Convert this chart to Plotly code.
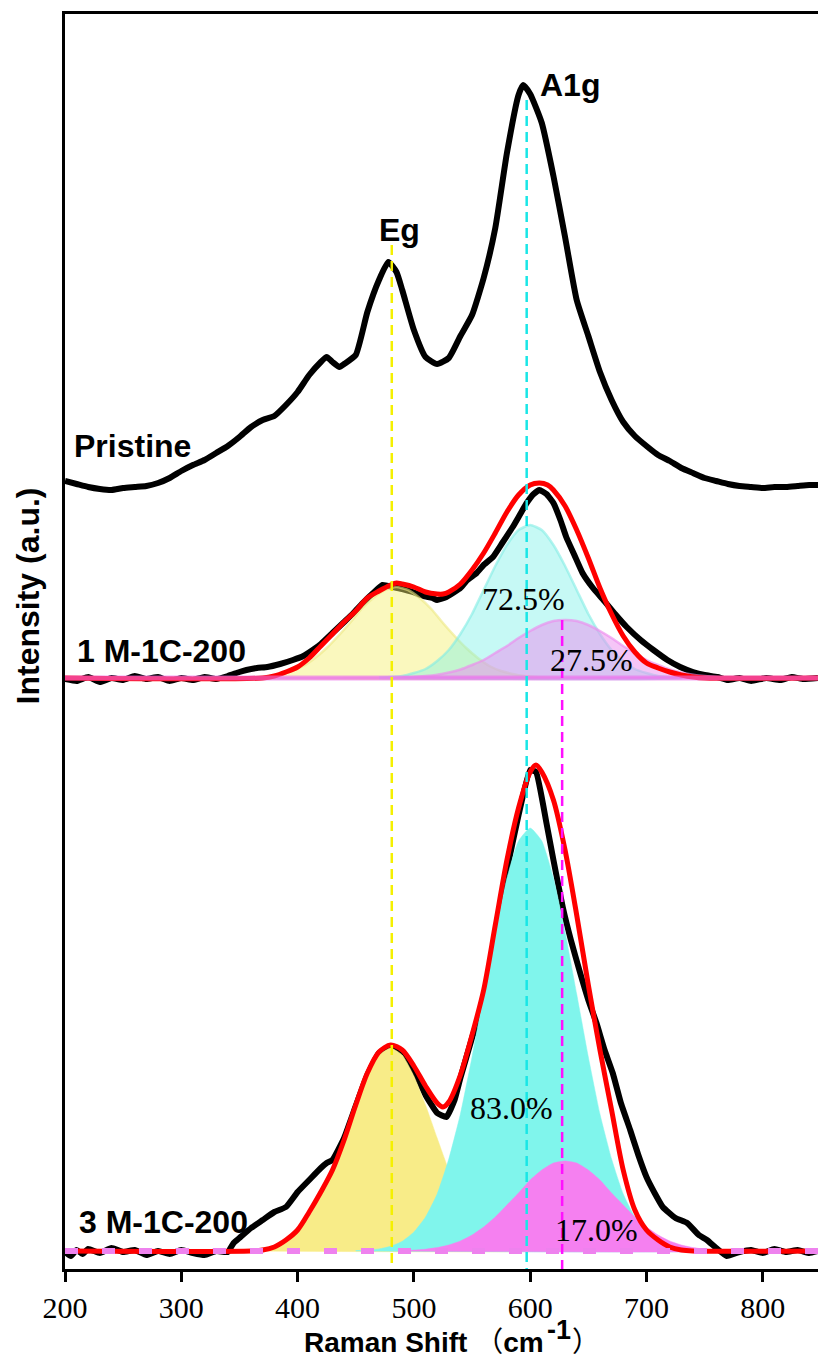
import plotly.graph_objects as go

# ---------------- data (Raman shift in cm-1, intensity in a.u.) ----------------
pristine_x = [200, 210, 220, 230, 240, 250, 260, 270, 280, 290, 300, 310, 320, 330, 340, 350, 360, 370, 380, 390,
              400, 410, 420, 425, 430, 436, 440, 450, 460, 470, 478, 485, 490, 500, 510, 520, 530, 540, 550, 560,
              570, 580, 590, 594, 600, 610, 620, 630, 640, 650, 660, 670, 680, 690, 700, 710, 720, 730, 740, 750,
              760, 770, 780, 790, 800, 810, 820, 830, 840, 847.5]
pristine_y = [788, 785, 782, 780, 779, 781, 782, 783, 786, 791, 798, 804, 809, 816, 823, 832, 842, 849, 853, 864,
              877, 894, 907, 912, 907, 902, 905, 914, 957, 989, 1007, 997, 979, 939, 912, 905, 911, 933, 954, 991,
              1041, 1116, 1174, 1184, 1175, 1146, 1093, 1032, 969, 933, 897, 869, 847, 833, 823, 814, 808, 801, 796, 791,
              788, 785, 783, 782, 781, 782, 782, 783, 784, 784]

m1_x = [200, 210, 220, 230, 240, 250, 260, 270, 280, 290, 300, 310, 320, 330, 340, 350, 356, 365, 374, 385,
        396, 405, 413, 420, 430, 440, 448, 456, 465, 473, 482, 490, 499, 508, 516, 520, 528, 535, 540, 546,
        554, 560, 568, 576, 585, 591, 597, 603, 608, 614, 620, 626, 631, 638, 645, 654, 663, 673, 683, 695,
        706, 718, 729, 740, 750, 761, 770, 780, 790, 803, 815, 825, 835, 847.5]
m1_y = [590, 588, 592, 587, 591, 589, 593, 590, 592, 588, 591, 589, 592, 590, 593, 597, 599, 601, 602, 605,
        609, 613, 619, 625, 636, 647, 656, 666, 676, 684, 682, 680, 677, 673, 671, 669, 672, 677, 681, 689,
        696, 704, 712, 726, 742, 754, 766, 775, 779, 775, 766, 749, 732, 714, 696, 681, 669, 655, 642, 629,
        619, 609, 602, 597, 594, 592, 589, 591, 588, 591, 589, 592, 590, 591]

m1_fit_x = [200, 370, 380, 390, 400, 410, 420, 430, 440, 450, 460, 470, 480, 485, 490, 500, 510, 520, 525, 530,
            540, 550, 560, 570, 580, 590, 600, 608, 615, 620, 630, 640, 650, 660, 670, 680, 690, 700, 710, 720,
            730, 740, 750, 847.5]
m1_fit_y = [591, 591, 593, 597, 602, 611, 623, 635, 647, 658, 671, 678, 684, 686, 685, 682, 677, 675, 675, 677,
            685, 699, 716, 736, 757, 774, 784, 786, 784, 779, 763, 739, 711, 681, 655, 633, 617, 606, 601, 597,
            594, 592, 591, 591]

m1_base = 591
m1_eg_x = [200, 345, 355, 365, 375, 385, 395, 405, 415, 425, 435, 445, 455, 465, 475, 485, 495, 505, 515, 525,
           535, 545, 555, 565, 575, 585, 595, 605, 615, 625]
m1_eg_h = [0, 0.2, 0.5, 1, 2, 4, 7, 12, 20, 30, 42, 55, 69, 80, 88, 91, 88, 80, 69, 55,
           42, 30, 20, 12, 7, 4, 2, 1, 0.5, 0.2]
m1_a1_x = [470, 480, 490, 500, 510, 520, 530, 540, 550, 560, 570, 580, 590, 600, 610, 620, 630, 640, 650, 660,
           670, 680, 690, 700, 710, 720, 730]
m1_a1_h = [0.5, 1, 2, 5, 9, 17, 28, 44, 64, 88, 112, 133, 148, 153, 148, 133, 112, 88, 64, 44,
           28, 17, 9, 5, 2, 1, 0.5]
m1_a2_x = [200, 480, 490, 500, 510, 520, 530, 540, 550, 560, 570, 580, 590, 600, 610, 620, 630, 640, 650, 660,
           670, 680, 690, 700, 710, 720, 730, 740, 750, 760, 770, 780, 847.5]
m1_a2_h = [0, 0.3, 0.6, 1.0, 1.9, 3.3, 5.5, 8.5, 13, 18, 25, 32, 40, 47, 53, 57, 58, 57, 53, 47,
           40, 32, 25, 18, 13, 8.5, 5.5, 3.3, 1.9, 1.0, 0.6, 0.3, 0]

m3_x = [200, 205, 210, 215, 220, 230, 240, 250, 260, 270, 280, 290, 300, 310, 320, 330, 340, 345, 350, 360,
        370, 380, 390, 400, 410, 420, 425, 430, 440, 450, 460, 470, 480, 490, 500, 510, 520, 528, 535, 540,
        550, 560, 570, 580, 590, 600, 605, 614, 620, 628, 635, 643, 650, 657, 664, 671, 678, 686, 693, 700,
        707, 714, 725, 735, 745, 752, 760, 769, 780, 790, 800, 810, 820, 830, 840, 847.5]
m3_y = [17, 13, 19, 15, 20, 16, 21, 17, 19, 14, 18, 15, 19, 16, 14, 18, 17, 26, 31, 41,
        49, 57, 62, 77, 89, 101, 106, 109, 131, 163, 194, 216, 223, 217, 199, 174, 156, 152, 169, 191,
        231, 269, 334, 399, 454, 499, 497, 446, 409, 362, 329, 296, 269, 246, 219, 196, 166, 139, 114, 92,
        76, 62, 51, 46, 34, 29, 21, 13, 17, 19, 16, 20, 17, 19, 16, 18]

m3_fit_x = [200, 360, 370, 380, 390, 400, 410, 420, 430, 440, 450, 460, 470, 480, 490, 500, 510, 520, 525, 530,
            540, 550, 560, 570, 580, 590, 600, 605, 610, 620, 630, 640, 650, 660, 670, 680, 690, 700, 710, 720,
            730, 740, 847.5]
m3_fit_y = [18, 18, 19, 22, 29, 39, 57, 77, 99, 129, 164, 196, 217, 224, 219, 203, 183, 166, 162, 167,
            194, 234, 279, 344, 409, 461, 497, 504, 497, 469, 419, 354, 284, 219, 159, 99, 59, 39, 29, 22,
            19, 18, 18]

m3_base = 18
m3_eg_x = [350, 360, 370, 380, 390, 400, 410, 420, 430, 440, 450, 460, 470, 480, 490, 500, 510, 520, 530, 540,
           550, 560, 570, 580, 590, 600, 610]
m3_eg_h = [0.4, 1, 2.4, 5, 11, 20, 34, 55, 81, 113, 146, 175, 196, 203, 196, 175, 146, 113, 81, 55,
           34, 20, 11, 5, 2.4, 1, 0.4]
m3_a1_x = [450, 460, 470, 480, 490, 500, 510, 520, 530, 540, 550, 560, 570, 580, 590, 600, 610, 620, 630, 640,
           650, 660, 670, 680, 690, 700, 710, 720, 730, 740, 750]
m3_a1_h = [0.4, 0.9, 2.1, 4.7, 9.7, 19, 34, 57, 92, 137, 194, 257, 319, 373, 410, 423, 410, 373, 319, 257,
           194, 137, 92, 57, 34, 19, 9.7, 4.7, 2.1, 0.9, 0.4]
m3_a2_x = [490, 500, 510, 520, 530, 540, 550, 560, 570, 580, 590, 600, 610, 620, 630, 640, 650, 660, 670, 680,
           690, 700, 710, 720, 730, 740, 750, 760, 770]
m3_a2_h = [0.5, 0.9, 1.8, 3.4, 6, 10, 16, 24, 34, 46, 58, 71, 81, 88, 90, 88, 81, 71, 58, 46,
           34, 24, 16, 10, 6, 3.4, 1.8, 0.9, 0.5]

# reference peak positions (dashed guides): position, top of line
guide_pos = [481, 597, 627.5]
guide_top = [1024, 1169, 649]
guide_col = ["#F5F000", "#19E6E6", "#FF10FF"]

x_range = [200, 847.5]
x_ticks = [200, 300, 400, 500, 600, 700, 800]

fig = go.Figure()


def spectrum(x, y, color, width=5.5, shape="linear", smoothing=0.6):
    fig.add_trace(go.Scatter(x=x, y=y, mode="lines",
                             line=dict(color=color, width=width, shape=shape, smoothing=smoothing),
                             hoverinfo="skip", showlegend=False))


def component(x, h, base, fill, line_color, line_width):
    xs = list(x) + [x[-1], x[0]]
    ys = [base + v for v in h] + [base, base]
    fig.add_trace(go.Scatter(x=xs, y=ys, mode="lines", fill="toself", fillcolor=fill,
                             line=dict(color=line_color, width=line_width, shape="spline", smoothing=0.5),
                             hoverinfo="skip", showlegend=False))


# Pristine
spectrum(pristine_x, pristine_y, "black", 6, "spline", 0.5)

# 1 M-1C-200
spectrum(m1_x, m1_y, "black", 6, "spline", 0.4)
component(m1_eg_x, m1_eg_h, m1_base, "rgba(245,240,110,0.45)", "rgba(236,232,130,0.6)", 2.5)
component(m1_a1_x, m1_a1_h, m1_base, "rgba(120,240,232,0.42)", "rgba(130,236,228,0.6)", 2.5)
component(m1_a2_x, m1_a2_h, m1_base, "rgba(236,140,240,0.5)", "rgba(236,140,238,0.65)", 2.5)
spectrum(m1_fit_x, m1_fit_y, "#FF0000", 5, "spline", 0.8)
fig.add_trace(go.Scatter(x=x_range, y=[m1_base, m1_base], mode="lines",
                         line=dict(color="rgba(236,110,236,0.6)", width=5),
                         hoverinfo="skip", showlegend=False))

# 3 M-1C-200
spectrum(m3_x, m3_y, "black", 6, "spline", 0.4)
component(m3_eg_x, m3_eg_h, m3_base, "#F8EC88", "#F8EC88", 0.5)
component(m3_a1_x, m3_a1_h, m3_base, "#80F5EC", "#80F5EC", 0.5)
component(m3_a2_x, m3_a2_h, m3_base, "#F580F0", "#F580F0", 0.5)
spectrum(m3_fit_x, m3_fit_y, "#FF0000", 5, "spline", 0.8)
fig.add_trace(go.Scatter(x=x_range, y=[m3_base, m3_base], mode="lines",
                         line=dict(color="#EE82EE", width=6, dash="13px,24px"),
                         hoverinfo="skip", showlegend=False))

# dashed guides
for p, t, c in zip(guide_pos, guide_top, guide_col):
    fig.add_trace(go.Scatter(x=[p, p], y=[t, 0], mode="lines",
                             line=dict(color=c, width=2.5, dash="10px,6px"),
                             hoverinfo="skip", showlegend=False))

bold = dict(family="Arial, Liberation Sans, sans-serif", size=32, color="black", weight="bold")
serif = dict(family="Times New Roman, Liberation Serif, serif", size=32, color="black")

labels = [
    ("Pristine", 206, 823, "left", bold),
    ("1 M-1C-200", 208.5, 618, "left", bold),
    ("3 M-1C-200", 210, 47, "left", bold),
    ("Eg", 488, 1039, "center", bold),
    ("A1g", 634, 1184, "center", bold),
    ("72.5%", 594.5, 670, "center", serif),
    ("27.5%", 653, 609, "center", serif),
    ("83.0%", 584, 161, "center", serif),
    ("17.0%", 657, 39, "center", serif),
]
for text, x, y, anchor, font in labels:
    fig.add_annotation(x=x, y=y, xref="x", yref="y", text=text, showarrow=False,
                       xanchor=anchor, yanchor="middle", font=font)

# axis titles
title_font = dict(family="Arial, Liberation Sans, sans-serif", size=28, color="black", weight="bold")
fig.add_annotation(x=-0.049, y=0.536, xref="paper", yref="paper", text="Intensity (a.u.)",
                   textangle=-90, showarrow=False, xanchor="center", yanchor="middle",
                   font=dict(family="Arial, Liberation Sans, sans-serif", size=32, color="black", weight="bold"))
fig.add_annotation(x=0.3147, y=-0.0566, xref="paper", yref="paper",
                   text="Raman Shift <span style='font-family:Noto Sans CJK SC;font-weight:normal'>（</span>cm",
                   showarrow=False, xanchor="left", yanchor="middle", font=title_font)
fig.add_annotation(x=0.6375, y=-0.0486, xref="paper", yref="paper", text="-1",
                   showarrow=False, xanchor="left", yanchor="middle",
                   font=dict(family="Arial, Liberation Sans, sans-serif", size=27, color="black", weight="bold"))
fig.add_annotation(x=0.6700, y=-0.0566, xref="paper", yref="paper",
                   text="<span style='font-family:Noto Sans CJK SC;font-weight:normal'>）</span>",
                   showarrow=False, xanchor="left", yanchor="middle", font=title_font)

fig.update_layout(
    width=818, height=1362,
    margin=dict(l=65, r=0, t=14, b=93),
    paper_bgcolor="white", plot_bgcolor="white",
    showlegend=False,
)
fig.update_xaxes(
    range=x_range, tickvals=x_ticks, ticks="outside", ticklen=10, tickwidth=2.5, tickcolor="black",
    showline=True, linecolor="black", linewidth=3, mirror=True, showgrid=False, zeroline=False,
    tickfont=dict(family="Times New Roman, Liberation Serif, serif", size=30, color="black"),
)
fig.update_yaxes(
    range=[0, 1255], showticklabels=False, ticks="", showgrid=False, zeroline=False,
    showline=True, linecolor="black", linewidth=3, mirror=False,
)

fig.write_html("out.html")
